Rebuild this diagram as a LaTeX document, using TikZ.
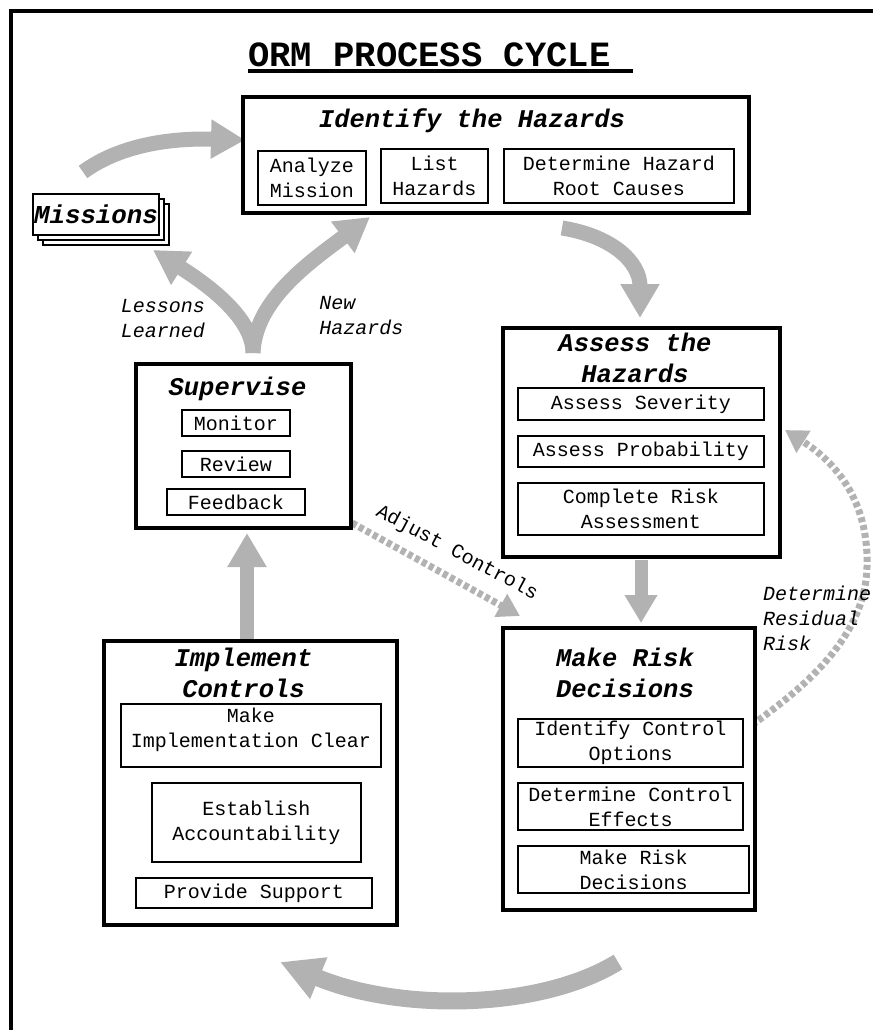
\documentclass[tikz,border=0pt]{standalone}
\usepackage{fontspec}
\setmainfont{Liberation Mono}
\usetikzlibrary{arrows.meta,calc}
\definecolor{arrowgray}{RGB}{178,178,178}
\pgfdeclarelayer{bg}
\pgfsetlayers{bg,main}
\tikzset{
 bigbox/.style={draw, line width=3.5pt, fill=white, inner sep=0pt},
 subbox/.style={draw, line width=1.3pt, fill=white, inner sep=0pt, align=center, font=\fontsize{20}{25}\selectfont},
 subtext/.style={inner sep=0pt, align=center, font=\fontsize{20}{25}\selectfont},
 btitle/.style={inner sep=0pt, align=center, font=\fontsize{25.5}{31}\selectfont\bfseries\itshape},
 note/.style={inner sep=0pt, align=left, font=\fontsize{20}{25}\selectfont\itshape},
 garrow/.style={draw=arrowgray, line width=15pt, -{Triangle[length=34pt,width=37pt]}},
 darrow/.style={draw=arrowgray, line width=7pt, dash pattern=on 5pt off 3pt, -{Triangle[length=22pt,width=25pt]}},
 misbox/.style={draw, line width=2pt, fill=white, inner sep=0pt, minimum width=126pt, minimum height=41pt},
}
\begin{document}
\begin{tikzpicture}[x=1pt,y=-1pt]
\useasboundingbox (0,0) rectangle (873,1030);
% frame
\draw[line width=4pt] (10.5,1030) -- (10.5,11) -- (873,11);
% title
\node[anchor=base west, inner sep=0pt, font=\fontsize{35.5}{40}\selectfont\bfseries] (title) at (248,67) {ORM PROCESS CYCLE};
\draw[line width=4pt] (248,71) -- (633,71);

% Identify
\node[bigbox, minimum width=506pt, minimum height=116pt] (ident) at (496,155) {};
\node[btitle] (identT) at (472,121) {Identify the Hazards};
\node[subbox, minimum width=108pt, minimum height=54pt] (anal) at (312,178) {Analyze\\Mission};
\node[subbox, minimum width=107pt, minimum height=54pt] (list) at (434.5,176) {List\\Hazards};
\node[subbox, minimum width=230pt, minimum height=54pt] (root) at (619,176) {Determine Hazard\\Root Causes};

% Missions
\node[misbox] (mis3) at (106,224.5) {};
\node[misbox] (mis2) at (101,219.5) {};
\node[misbox, font=\fontsize{25.8}{30}\selectfont\bfseries\itshape] (mis) at (96,214.5) {Missions};

% Supervise
\node[bigbox, minimum width=215pt, minimum height=164pt] (sup) at (243.5,446) {};
\node[btitle] (supT) at (237.5,389) {Supervise};
\node[subbox, minimum width=108pt, minimum height=26pt] (mon) at (236,423) {Monitor};
\node[subbox, minimum width=108pt, minimum height=26pt] (rev) at (236,464) {Review};
\node[subbox, minimum width=138pt, minimum height=26pt] (feed) at (236,502) {Feedback};

% Assess
\node[bigbox, minimum width=277pt, minimum height=229pt] (assess) at (641.5,442.5) {};
\node[btitle] (assessT) at (635,357.5) {Assess the\\Hazards};
\node[subbox, minimum width=246pt, minimum height=32pt] (sev) at (641,404) {Assess Severity};
\node[subbox, minimum width=246pt, minimum height=31pt] (prob) at (641,451.5) {Assess Probability};
\node[subbox, minimum width=246pt, minimum height=52pt] (comp) at (641,509) {Complete Risk\\Assessment};

% Make risk decisions
\node[bigbox, minimum width=252pt, minimum height=282pt] (make) at (629,769) {};
\node[btitle] (makeT) at (625,673) {Make Risk\\Decisions};
\node[subbox, minimum width=225pt, minimum height=48pt] (idc) at (630.5,743) {Identify Control\\Options};
\node[subbox, minimum width=225pt, minimum height=47pt] (detc) at (630.5,806.5) {Determine Control\\Effects};
\node[subbox, minimum width=231pt, minimum height=47pt] (mrd) at (633.5,869.5) {Make Risk\\Decisions};

% Implement
\node[bigbox, minimum width=293pt, minimum height=284pt] (impl) at (250.5,783) {};
\node[btitle] (implT) at (243.5,673) {Implement\\Controls};
\node[subbox, minimum width=260pt, minimum height=63pt] (mic) at (251,735.5) {};
\node[subtext] (micT) at (251,729.5) {Make\\Implementation Clear};
\node[subbox, minimum width=209pt, minimum height=79pt] (esa) at (256.5,822.5) {Establish\\Accountability};
\node[subbox, minimum width=236pt, minimum height=30pt] (prov) at (254,893) {Provide Support};

% labels
\node[note] (lessons) at (163,319) {Lessons\\Learned};
\node[note] (newhaz) at (361.5,315.5) {New\\Hazards};
\node[note] (resid) at (817,618) {Determine\\Residual\\Risk};
\node[inner sep=0pt, font=\fontsize{20}{25}\selectfont, rotate=-28] (adj) at (457,553) {Adjust Controls};

% arrows
\coordinate (a1s) at (83,172);
\coordinate (a1e) at (245,140);
\coordinate (a2s) at (562,228);
\coordinate (a2e) at (640,318);
\coordinate (a3s) at (641,560);
\coordinate (a3e) at (641,623);
\coordinate (a4s) at (618,962);
\coordinate (a4e) at (280,962);
\coordinate (a5s) at (247,641);
\coordinate (a5e) at (247,533);
\coordinate (ys) at (253,353);
\coordinate (yl) at (153,250);
\coordinate (yr) at (370,217);
\coordinate (ds) at (352,523);
\coordinate (de) at (520,616);
\coordinate (rs) at (752,725);
\coordinate (re) at (785,430);
\begin{pgfonlayer}{bg}
\draw[garrow] (a1s) .. controls (120,145) and (170,138) .. (a1e);
\draw[garrow] (a2s) .. controls (612,236) and (640,262) .. (a2e);
\draw[garrow, line width=13pt, -{Triangle[length=28pt,width=31pt]}] (a3s) -- (a3e);
\draw[garrow, line width=17pt, -{Triangle[length=42pt,width=42pt]}] (a4s) .. controls (540,1010) and (400,1012) .. (a4e);
\draw[garrow, line width=14pt] (a5s) -- (a5e);
\draw[garrow] (ys) .. controls (253,315) and (200,280) .. (yl);
\draw[garrow] (ys) .. controls (255,300) and (310,262) .. (yr);
\draw[darrow] (ds) -- (de);
\draw[darrow] (rs) .. controls (800,690) and (865,640) .. (867,567) .. controls (869,500) and (835,462) .. (re);
\end{pgfonlayer}
\end{tikzpicture}
\end{document}
